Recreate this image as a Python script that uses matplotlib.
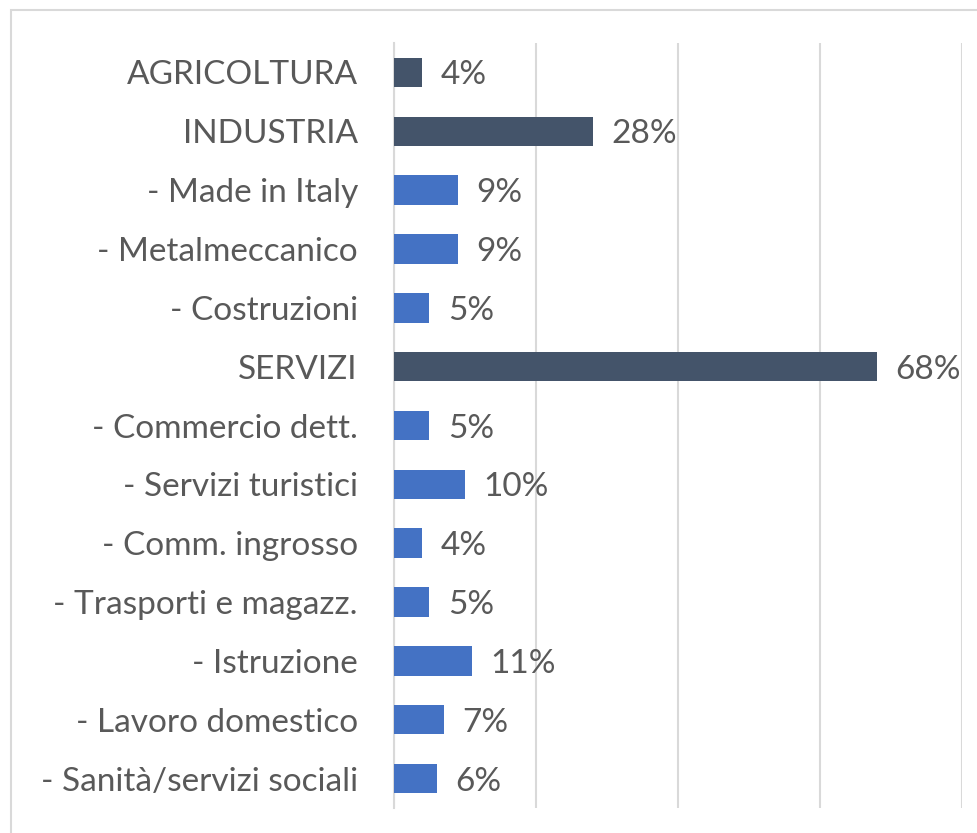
import matplotlib.pyplot as plt
from matplotlib.patches import Rectangle

categories = ['AGRICOLTURA', 'INDUSTRIA', '- Made in Italy', '- Metalmeccanico',
              '- Costruzioni', 'SERVIZI', '- Commercio dett.', '- Servizi turistici',
              '- Comm. ingrosso', '- Trasporti e magazz.', '- Istruzione',
              '- Lavoro domestico', '- Sanità/servizi sociali']
values = [4, 28, 9, 9, 5, 68, 5, 10, 4, 5, 11, 7, 6]
is_main = [True, True, False, False, False, True, False, False, False, False, False, False, False]

dark = '#44546A'
light = '#4472C4'
text_col = '#595959'
grid_col = '#D9D9D9'

plt.rcParams['font.family'] = ['Lato', 'DejaVu Sans']

fig = plt.figure(figsize=(9.78, 8.33), dpi=100)
ax = fig.add_axes([394/978, 1 - 808/833, (962-394)/978, (808-43)/833])

y = list(range(len(categories)))
colors = [dark if m else light for m in is_main]
ax.barh(y, values, height=0.5, color=colors, zorder=3)
for yi, v in zip(y, values):
    ax.text(v + 2.6, yi, f'{v}%', va='center_baseline', ha='left', fontsize=24, color=text_col)

ax.set_xlim(0, 80)
ax.set_ylim(len(categories) - 0.5, -0.5)
ax.set_xticks([0, 20, 40, 60, 80])
ax.set_xticklabels([])
ax.xaxis.grid(True, color=grid_col, linewidth=1.5, zorder=0)
ax.tick_params(axis='both', length=0)
ax.set_yticks(y)
ax.set_yticklabels(categories, fontsize=24, color=text_col)
ax.tick_params(axis='y', pad=26)
for s in ['top', 'right', 'bottom']:
    ax.spines[s].set_visible(False)
ax.spines['left'].set_color(grid_col)
ax.spines['left'].set_linewidth(1.5)

# outer chart border (partly cut off in the reference)
fig.patches.append(Rectangle((11/978, -0.1), 1.2, 1.1 - 10/833, transform=fig.transFigure,
                             fill=False, edgecolor=grid_col, linewidth=1.5))

fig.savefig('out.png', dpi=100)
